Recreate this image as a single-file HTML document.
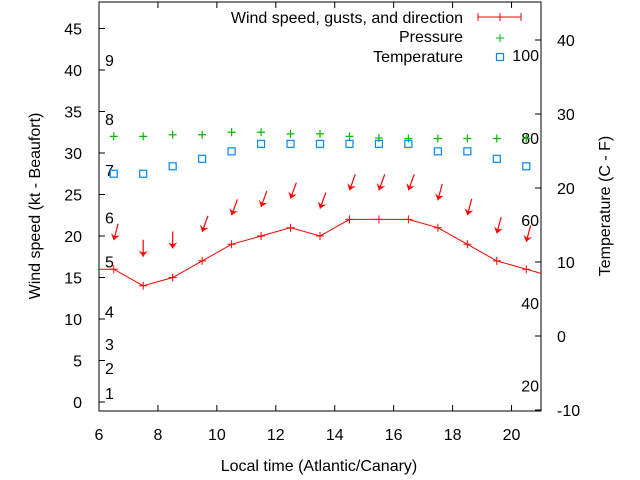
<!DOCTYPE html>
<html><head><meta charset="utf-8"><style>
body{margin:0;background:#fff}
svg{display:block;font-family:"Liberation Sans",sans-serif;font-size:16px}
</style></head><body>
<svg id="c" width="640" height="480"></svg>
<script>
const times=[6.5,7.5,8.5,9.5,10.5,11.5,12.5,13.5,14.5,15.5,16.5,17.5,18.5,19.5,20.5];
const windSpeed=[16,14,15,17,19,20,21,20,22,22,22,21,19,17,16];
const gusts=[19.5,17.5,18.5,20.5,22.5,23.5,24.5,23.3,25.5,25.5,25.5,24.3,22.5,20.3,19.3];
const gustTilt=[15,0,0,20,20,20,20,20,20,20,20,15,15,15,15];
const pressure=[32,32,32.2,32.2,32.5,32.5,32.3,32.3,32,31.8,31.75,31.75,31.75,31.75,31.75];
const temperature=[27.5,27.5,28.4,29.3,30.2,31.1,31.1,31.1,31.1,31.1,31.1,30.2,30.2,29.3,28.4];
const xTicks=[6,8,10,12,14,16,18,20];
const yTicks=[0,5,10,15,20,25,30,35,40,45];
const y2Ticks=[-10,0,10,20,30,40];
const beaufort=[[1,1.1],[2,4.1],[3,7.0],[4,10.9],[5,16.95],[6,22.2],[7,27.95],[8,34.1],[9,41.2]];
const fahr=[[20,2.0],[40,11.9],[60,21.9],[80,31.8],[100,41.8]];

const svg=document.getElementById('c');const NS='http://www.w3.org/2000/svg';
const L=99,R=541,T=2,B=411;
const X=v=>L+(v-6)*(R-L)/15;
const Y=v=>402-v*8.3;
const Y2=v=>336-v*7.4;
function el(tag,a,name,txt){const e=document.createElementNS(NS,tag);for(const k in a)e.setAttribute(k,a[k]);


if(txt!==undefined)e.textContent=txt;svg.appendChild(e);return e;}
el('rect',{x:L,y:T,width:R-L,height:B-T,fill:'none',stroke:'#000','stroke-width':1},'plot-frame');
xTicks.forEach(t=>{el('line',{x1:X(t),x2:X(t),y1:B,y2:B-6,stroke:'#000'},'x-tick');el('line',{x1:X(t),x2:X(t),y1:T,y2:T+6,stroke:'#000'},'x-tick-top');
el('text',{x:X(t),y:440,'text-anchor':'middle'},'x-tick-label',t);});
yTicks.forEach(t=>{el('line',{x1:L,x2:L+6,y1:Y(t),y2:Y(t),stroke:'#000'},'y-tick');
el('text',{x:82,y:Y(t)+6,'text-anchor':'end'},'y-tick-label',t);});
y2Ticks.forEach(t=>{el('line',{x1:R,x2:R-6,y1:Y2(t),y2:Y2(t),stroke:'#000'},'y2-tick');
el('text',{x:557,y:Y2(t)+6,'text-anchor':'start'},'y2-tick-label',t);});
beaufort.forEach(b=>el('text',{x:105,y:Y(b[1])+6},'beaufort-label',b[0]));
fahr.forEach(f=>el('text',{x:539,y:Y(f[1])+6,'text-anchor':'end'},'fahrenheit-label',f[0]));
el('text',{x:319,y:471,'text-anchor':'middle'},'x-axis-title','Local time (Atlantic/Canary)');
el('text',{x:40,y:206,'text-anchor':'middle',transform:'rotate(-90 40 206)'},'y-axis-title','Wind speed (kt - Beaufort)');
el('text',{x:610,y:206,'text-anchor':'middle',transform:'rotate(-90 610 206)'},'y2-axis-title','Temperature (C - F)');
let pts=[[X(6),Y(windSpeed[0])]];times.forEach((t,i)=>pts.push([X(t),Y(windSpeed[i])]));
pts.push([R,Y(windSpeed[windSpeed.length-1]-0.5)]);
el('polyline',{points:pts.map(p=>p.join(',')).join(' '),fill:'none',stroke:'#f00','stroke-width':1},'wind-line');
times.forEach((t,i)=>{const x=X(t),y=Y(windSpeed[i]);
el('path',{d:`M${x-4},${y}H${x+4}M${x},${y-4}V${y+4}`,stroke:'#f00'},'wind-point');
const a=gustTilt[i]*Math.PI/180,tx=X(t),ty=Y(gusts[i]),len=17;
const sx=tx+Math.sin(a)*len,sy=ty-Math.cos(a)*len;
el('line',{x1:sx,y1:sy,x2:tx,y2:ty,stroke:'#f00','stroke-width':1.2},'gust-arrow-shaft');
const ux=(tx-sx)/len,uy=(ty-sy)/len,px=-uy,py=ux;
el('polygon',{points:`${tx},${ty} ${tx-ux*6+px*4.5},${ty-uy*6+py*4.5} ${tx-ux*4},${ty-uy*4} ${tx-ux*6-px*4.5},${ty-uy*6-py*4.5}`,fill:'#f00'},'gust-arrow-head');
const px2=X(t),py2=Y(pressure[i]);
el('path',{d:`M${px2-4},${py2}H${px2+4}M${px2},${py2-4}V${py2+4}`,stroke:'#0b0','stroke-width':1.2},'pressure-point');
el('rect',{x:X(t)-3.5,y:Y(temperature[i])-3.5,width:7,height:7,fill:'none',stroke:'#08f','stroke-width':1.2},'temperature-point');});
el('text',{x:463,y:23,'text-anchor':'end'},'legend-wind','Wind speed, gusts, and direction');
el('path',{d:'M478,17H521M478,13V21M521,13V21M500,13V21',stroke:'#f00'},'legend-wind-symbol');
el('text',{x:463,y:42,'text-anchor':'end'},'legend-pressure','Pressure');
el('path',{d:'M496,38H504M500,34V42',stroke:'#0b0'},'legend-pressure-symbol');
el('text',{x:463,y:62,'text-anchor':'end'},'legend-temperature','Temperature');
el('rect',{x:496.5,y:53.5,width:7,height:7,fill:'none',stroke:'#08f','stroke-width':1.2},'legend-temperature-symbol');
</script></body></html>
